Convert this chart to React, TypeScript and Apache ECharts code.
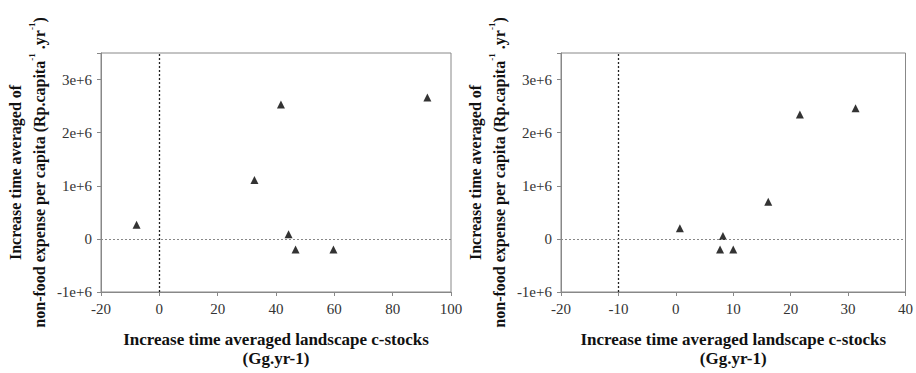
import React, { useEffect, useRef } from "react";
import * as echarts from "echarts";

// Left panel
const leftX = [-7.8, 32.6, 41.7, 44.3, 46.7, 59.7, 91.9];
const leftY = [265000, 1110000, 2530000, 86000, -200000, -200000, 2660000];
// Right panel
const rightX = [0.7, 8.2, 7.7, 10.0, 16.1, 21.6, 31.3];
const rightY = [200000, 55000, -200000, -200000, 700000, 2340000, 2460000];

const yTicks = [-1000000, 0, 1000000, 2000000, 3000000];
const yLabels: Record<string, string> = {
  "-1000000": "-1e+6",
  "0": "0",
  "1000000": "1e+6",
  "2000000": "2e+6",
  "3000000": "3e+6",
};

const xTitle = "Increase time averaged landscape c-stocks\n(Gg.yr-1)";
const yTitle =
  "{b|Increase time averaged of}\n{b|non-food expense per capita (Rp.capita}{s|-1}{b| .yr}{s|-1}{b|)}";

const FONT = "Liberation Serif";

export default function App() {
  const ref = useRef<HTMLDivElement>(null);
  useEffect(() => {
    if (!ref.current) return;
    const chart = echarts.init(ref.current, null, { renderer: "svg" });
    const makeX = (idx: number, min: number, max: number, interval: number) => ({
      type: "value",
      gridIndex: idx,
      min,
      max,
      interval,
      name: xTitle,
      nameLocation: "middle",
      nameGap: 38,
      nameTextStyle: {
        fontFamily: FONT,
        fontWeight: "bold",
        fontSize: 17,
        color: "#111",
        lineHeight: 19,
      },
      axisLine: { show: true, onZero: false, lineStyle: { color: "#888", width: 1 } },
      axisTick: { show: true, inside: false, length: 4, lineStyle: { color: "#888" } },
      axisLabel: {
        show: true,
        fontFamily: FONT,
        fontSize: 15,
        color: "#333",
        margin: 9,
      },
      splitLine: { show: false },
    });
    const makeY = (idx: number) => ({
      type: "value",
      gridIndex: idx,
      min: -1000000,
      max: 3500000,
      interval: 1000000,
      name: yTitle,
      nameLocation: "middle",
      nameGap: 50,
      nameTextStyle: {
        rich: {
          b: {
            fontFamily: FONT,
            fontWeight: "bold",
            fontSize: 16,
            color: "#111",
            lineHeight: 24,
          },
          s: {
            fontFamily: FONT,
            fontWeight: "bold",
            fontSize: 9,
            color: "#111",
            lineHeight: 24,
            verticalAlign: "top",
            padding: [0, 0, 8, 0],
          },
        },
      },
      axisLine: { show: true, onZero: false, lineStyle: { color: "#888", width: 1 } },
      axisTick: { show: true, inside: false, length: 4, lineStyle: { color: "#888" } },
      axisLabel: {
        show: true,
        fontFamily: FONT,
        fontSize: 15,
        color: "#333",
        margin: 9,
        formatter: (v: number) => (yTicks.includes(v) ? yLabels[String(v)] : ""),
      },
      splitLine: { show: false },
    });
    const markLine = (xv: number) => ({
      silent: true,
      symbol: "none",
      label: { show: false },
      data: [
        { xAxis: xv, lineStyle: { color: "#222", type: [2, 2], width: 1.3 } },
        { yAxis: 0, lineStyle: { color: "#888", type: [2, 2], width: 1 } },
      ],
    });
    chart.setOption({
      animation: false,
      backgroundColor: "#fff",
      textStyle: { fontFamily: FONT },
      grid: [
        { left: 101, right: 465, top: 53, bottom: 76, show: true, borderColor: "#888", borderWidth: 1 },
        { left: 561, right: 6, top: 53, bottom: 76, show: true, borderColor: "#888", borderWidth: 1 },
      ],
      xAxis: [makeX(0, -20, 100, 20), makeX(1, -20, 40, 10)],
      yAxis: [makeY(0), makeY(1)],
      series: [
        {
          type: "scatter",
          xAxisIndex: 0,
          yAxisIndex: 0,
          symbol: "triangle",
          symbolSize: 8,
          itemStyle: { color: "#000" },
          data: leftX.map((x, i) => [x, leftY[i]]),
          markLine: markLine(0),
        },
        {
          type: "scatter",
          xAxisIndex: 1,
          yAxisIndex: 1,
          symbol: "triangle",
          symbolSize: 8,
          itemStyle: { color: "#000" },
          data: rightX.map((x, i) => [x, rightY[i]]),
          markLine: markLine(-10),
        },
      ],
    });
    return () => chart.dispose();
  }, []);
  return (
    <div
      ref={ref}
      style={{ width: 916, height: 373, position: "absolute", left: 0, top: 0 }}
    />
  );
}
